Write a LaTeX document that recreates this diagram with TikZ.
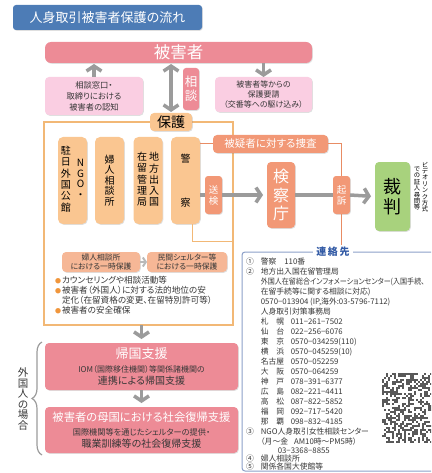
\documentclass[tikz,border=0pt]{standalone}
\usepackage{fontspec}
\usepackage{graphicx}
\setmainfont{Noto Sans CJK JP}[RawFeature=+palt]
\usetikzlibrary{arrows.meta}
\usetikzlibrary{shadows}
\usetikzlibrary{decorations.pathreplacing}

\definecolor{titblue}{RGB}{77,124,182}
\definecolor{vpink}{RGB}{237,139,150}
\definecolor{lpink}{RGB}{250,206,226}
\definecolor{lorange}{RGB}{250,198,145}
\definecolor{salmon}{RGB}{242,152,118}
\definecolor{lsalmon}{RGB}{246,183,150}
\definecolor{frameor}{RGB}{242,184,118}
\definecolor{lineor}{RGB}{232,140,100}
\definecolor{bulletor}{RGB}{240,150,60}
\definecolor{arrgray}{RGB}{155,155,155}
\definecolor{judgegreen}{RGB}{168,210,125}
\definecolor{cblue}{RGB}{50,90,165}
\definecolor{cborder}{RGB}{140,160,200}
\definecolor{txtgray}{RGB}{55,55,55}

\newcommand\bul{\makebox[7pt][l]{\textcolor{bulletor}{\fontsize{6}{6}\selectfont ●}}}
\newcommand\city[1]{\makebox[30pt][l]{#1}}

\begin{document}
\begin{tikzpicture}[x=1pt,y=-1pt,
  every node/.style={inner sep=0pt,outer sep=0pt,text=txtgray},
  box/.style={rounded corners=4pt,drop shadow={shadow xshift=0.8pt,shadow yshift=-0.8pt,opacity=0.25}},
  fs/.style 2 args={font=\fontsize{#1}{#2}\selectfont},
  garrow/.style={draw=arrgray,line width=3.5pt,-{Straight Barb[length=5pt,width=15pt]}},
  gline/.style={draw=arrgray,line width=3.5pt},
  thinor/.style={draw=lineor,line width=1pt}]
  \useasboundingbox (0,0) rectangle (431,473);
  \clip (0,0) rectangle (431,473);

  \node[box,fill=titblue,text=white,rounded corners=3pt,minimum width=189,minimum height=25,fs={13}{15}] (title) at (107.5,17.5) {人身取引被害者保護の流れ};
  \node[box,fill=vpink,text=white,rounded corners=6pt,minimum width=267,minimum height=21,fs={16.5}{18}] (victim) at (178.5,52.5) {被害者};

  \node[box,fill=lpink,minimum width=98,minimum height=38,fs={8.3}{11},align=center] (aware) at (94,96) {相談窓口・\\取締りにおける\\被害者の認知};
  \node[box,fill=lpink,minimum width=97,minimum height=35,fs={8}{10},align=center] (request) at (263.5,94.5) {被害者等からの\\保護要請\\（交番等への駆け込み）};
  \node[box,fill=vpink,text=white,rounded corners=3pt,minimum width=16,minimum height=42,fs={12.5}{14},align=center] (consult) at (191,89) {相\\談};

  \node[draw=frameor,line width=1.2pt,minimum width=189,minimum height=203] (frame) at (138.5,223.5) {};
  \node[box,fill=lorange,text=black,minimum width=42,minimum height=18,fs={14}{16}] (hogo) at (171,122) {保護};

  \node[box,fill=lorange,text=black,rounded corners=5pt,minimum width=29,minimum height=87,fs={10}{10.5}] (embassy) at (72.5,180.5) {\begin{tabular}{@{}c@{}}駐\\日\\外\\国\\公\\館\end{tabular}\hspace{6pt}\begin{tabular}{@{}c@{}}N\\G\\O\\・\end{tabular}};
  \node[box,fill=lorange,text=black,rounded corners=5pt,minimum width=29,minimum height=87,fs={10}{10.6},align=center] (wcenter) at (109.5,180.5) {婦\\人\\相\\談\\所};
  \node[box,fill=lorange,text=black,rounded corners=5pt,minimum width=29,minimum height=87,fs={10}{10.6}] (immig) at (148,180.5) {\begin{tabular}{@{}c@{}}在\\留\\管\\理\\局\end{tabular}\hspace{2pt}\begin{tabular}{@{}c@{}}地\\方\\出\\入\\国\end{tabular}};
  \node[box,fill=lorange,text=black,rounded corners=5pt,minimum width=29,minimum height=87,fs={10}{10.5},align=center] (police) at (185.5,180.5) {警\\[33pt]察};

  \node[box,fill=salmon,text=white,minimum width=115,minimum height=18,fs={10.5}{12}] (probe) at (270.5,144) {被疑者に対する捜査};
  \node[box,fill=salmon,text=white,rounded corners=3pt,minimum width=17,minimum height=38,fs={9.5}{11},align=center] (sendcase) at (213.5,195) {送\\検};
  \node[box,fill=salmon,text=white,minimum width=28,minimum height=66,fs={16}{18.5},align=center] (prosec) at (281,195) {検\\察\\庁};
  \node[box,fill=salmon,text=white,rounded corners=3pt,minimum width=17,minimum height=38,fs={9.5}{11},align=center] (indict) at (341.5,195) {起\\訴};
  \node[box,fill=judgegreen,text=black,minimum width=35,minimum height=69,fs={18}{19.5},align=center] (judge) at (392.5,196.5) {裁\\判};
  \node[anchor=north,fs={6.3}{6.4},align=center,text=black] (video1) at (425,162) {ビ\\デ\\オ\\リ\\ン\\ク\\方\\式};
  \node[anchor=north,fs={6.3}{6.4},align=center,text=black] (video2) at (417,167) {で\\の\\証\\人\\尋\\問\\等};

  \draw[garrow,shorten >=1pt] (aware.north) -- (aware.north |- victim.south);
  \draw[gline,{Straight Barb[length=5pt,width=15pt]}-{Straight Barb[length=5pt,width=15pt]},shorten <=1pt,shorten >=1pt] (hogo.north) -- (hogo.north |- victim.south);
  \draw[garrow] (request.north |- victim.south) -- (request.north);
  \draw[gline] (police.east |- sendcase) -- (sendcase.west);
  \draw[garrow,shorten >=4pt] (sendcase.east) -- (prosec.west);
  \draw[gline] (prosec.east) -- (indict.west);
  \draw[garrow,shorten >=4pt] (indict.east) -- (judge.west);

  \coordinate (probeend) at (341.5,245);
  \coordinate (pbot) at (192,224);
  \coordinate (pturn) at (192,241);
  \draw[thinor] (police.east |- probe) -- (probe.west);
  \draw[thinor] (probe.east) -- (indict.north |- probe) -- (indict.north);
  \draw[thinor] (indict.south) -- (probeend);
  \draw[draw=frameor,line width=1pt] (pbot) -- (pturn) -- (pturn -| frame.east);

  \node[box,fill=lsalmon,minimum width=78,minimum height=20,fs={7.8}{9.5},align=center] (shelter1) at (101,262) {婦人相談所\\における一時保護};
  \node[box,fill=lsalmon,minimum width=80,minimum height=20,fs={7.8}{9.5},align=center] (shelter2) at (187,262) {民間シェルター等\\における一時保護};
  \draw[draw=arrgray!70,line width=2pt,-{Straight Barb[length=3pt,width=9pt]}] (shelter1.east) -- (shelter2.west);
  \node[anchor=north west,align=left,fs={8.6}{10}] (support) at (55,276) {\bul カウンセリングや相談活動等\\\bul 被害者（外国人）に対する法的地位の安\\\hspace*{7pt}定化（在留資格の変更、在留特別許可等）\\\bul 被害者の安全確保};

  \node[box,fill=vpink,minimum width=193,minimum height=47,align=center] (repat) at (141.5,366.5) {{\fontsize{13}{14}\selectfont\color{white}帰国支援}\\[2pt]\fontsize{8}{10}\selectfont IOM（国際移住機関）等関係諸機関の\\連携による帰国支援};
  \node[box,fill=vpink,minimum width=193,minimum height=46,align=center] (home) at (141.5,430) {{\fontsize{11.3}{13}\selectfont\color{white}被害者の母国における社会復帰支援}\\[2pt]\fontsize{8.2}{10}\selectfont 国際機関等を通じたシェルターの提供・\\職業訓練等の社会復帰支援};
  \draw[garrow,shorten >=4pt] (frame.south -| repat.north) -- (repat.north);
  \draw[garrow,shorten >=4pt] (repat.south) -- (home.north);

  \coordinate (btop) at (42,342);
  \coordinate (bbot) at (42,455);
  \draw[arrgray,line width=1.2pt,decorate,decoration={brace,amplitude=10pt}] (bbot) -- (btop);
  \node[fs={10.5}{10.5},align=center] (foreign) at (23,399) {外\\国\\人\\の\\場\\合};

  \node[draw=cborder,line width=1pt,rounded corners=3pt,minimum width=200,minimum height=219,anchor=north west] (contact) at (242,252) {};
  \node[fill=white,inner xsep=3pt,text=cblue,fs={10}{12}] (ctitle) at (333,252) {\bfseries 連\,絡\,先};
  \node[anchor=north west,fs={7.8}{10}] (info) at (246,257.5) {\begin{tabular}{@{}l@{\hspace{7pt}}l@{}}
  ① & 警察\hspace{8pt}110番\\
  ② & 地方出入国在留管理局\\
    & \resizebox{164pt}{\height}{外国人在留総合インフォメーションセンター(入国手続、}\\
    & 在留手続等に関する相談に対応)\\
    & 0570−013904 (IP,海外:03-5796-7112)\\
    & 人身取引対策事務局\\
    & \city{札　幌}011−261−7502\\
    & \city{仙　台}022−256−6076\\
    & \city{東　京}0570−034259(110)\\
    & \city{横　浜}0570−045259(10)\\
    & \city{名古屋}0570−052259\\
    & \city{大　阪}0570−064259\\
    & \city{神　戸}078−391−6377\\
    & \city{広　島}082−221−4411\\
    & \city{高　松}087−822−5852\\
    & \city{福　岡}092−717−5420\\
    & \city{那　覇}098−832−4185\\
  ③ & NGO人身取引女性相談センター\\
    & （月〜金\hspace{6pt}AM10時〜PM5時）\\[-1pt]
    & \hspace{17pt}03−3368−8855\\[-2pt]
  ④ & 婦人相談所\\[-2pt]
  ⑤ & 関係各国大使館等
  \end{tabular}};

  % QR code
  \pgfmathsetseed{42}
  \foreach \i in {0,...,24}{
    \foreach \j in {0,...,34}{
      \pgfmathtruncatemacro\q{2*rnd}
      \ifnum\q=1 \fill[black!65] (382+2*\i,373+2*\j) rectangle ++(2,2);\fi
    }
  }
\end{tikzpicture}
\end{document}
